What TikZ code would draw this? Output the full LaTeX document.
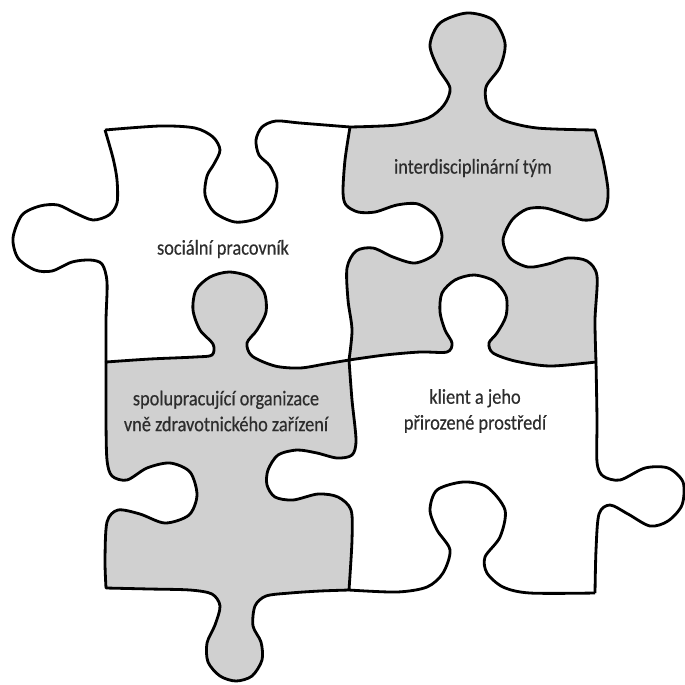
\documentclass[tikz,border=0pt]{standalone}
\usepackage{fontspec}
\setmainfont{Carlito}[FakeStretch=0.87, FakeBold=0.4]
\usepackage{tikz}
\definecolor{puzzlegray}{RGB}{208, 208, 208}
\definecolor{labelgray}{RGB}{45, 45, 45}

\begin{document}
\begin{tikzpicture}[x=0.02cm, y=-0.02cm,
    piece/.style={line width=1.6pt, line join=round, draw=black},
    grayfill/.style={piece, fill=puzzlegray},
    piecelabel/.style={font=\fontsize{12}{14.7}\selectfont, text=labelgray, align=center}]
        \useasboundingbox (0, 0) rectangle (685, 684);

        % Interdisciplinary team (top right, gray)
        \filldraw[grayfill]
            plot[smooth] coordinates {(350,127) (397,125) (428,118) (444,105) (450,88) (438,68) (430,45) (440,23) (467,13) (493,20) (505,43) (500,67) (486,87) (488,107) (503,120) (537,128) (595,130)}
            -- plot[smooth] coordinates {(595,130) (603,160) (608,190) (606,208) (597,218) (583,220) (565,214) (545,208) (527,209) (512,220) (503,240) (510,258) (528,267) (548,264) (568,258) (587,261) (597,276) (595,320) (596,362)}
            -- plot[smooth] coordinates {(596,362) (550,366) (515,361) (493,353) (489,343) (497,333) (506,316) (506,296) (494,281) (474,275) (455,280) (442,293) (440,312) (445,330) (452,343) (447,352) (420,352) (385,355) (349,360)}
            -- plot[smooth] coordinates {(349,360) (352,330) (348,300) (347,268) (356,251) (373,248) (393,257) (415,263) (435,254) (442,237) (435,216) (418,204) (397,205) (375,212) (358,212) (346,205) (343,192) (345,160) (350,127)}
            -- cycle;

        % Partner organisations (bottom left, gray)
        \filldraw[grayfill]
            plot[smooth] coordinates {(106,362) (150,359) (195,357) (212,355) (213,344) (200,330) (193,310) (196,290) (210,277) (229,272) (250,277) (264,292) (266,312) (257,330) (247,343) (252,356) (275,366) (300,368) (325,364) (349,360)}
            -- plot[smooth] coordinates {(349,360) (352,400) (356,440) (352,455) (337,458) (317,453) (297,450) (278,455) (268,470) (267,485) (275,497) (293,500) (318,494) (338,497) (351,510) (352,540) (349,590)}
            -- plot[smooth] coordinates {(349,590) (320,591) (290,593) (266,596) (255,606) (253,626) (261,642) (262,660) (252,676) (236,681) (220,676) (208,662) (207,643) (215,625) (220,606) (212,594) (190,590) (150,589) (106,588)}
            -- plot[smooth] coordinates {(106,588) (105,560) (107,522) (118,510) (140,514) (165,523) (189,515) (197,495) (190,472) (170,463) (147,468) (127,480) (112,476) (107,460) (106,420) (106,362)}
            -- cycle;

        % Social worker (top left, white)
        \draw[piece] plot[smooth] coordinates {(105,130) (160,126) (195,128) (213,137) (220,150) (214,164) (207,176) (205,195) (214,212) (235,222) (258,218) (273,203) (277,183) (270,166) (259,155) (256,140) (262,127) (276,121) (300,123) (350,127)};
        \draw[piece] plot[smooth] coordinates {(105,130) (113,158) (117,180) (117,203) (109,215) (93,220) (75,213) (58,205) (40,206) (22,215) (13,238) (18,258) (35,270) (52,271) (72,262) (90,260) (102,264) (107,282) (106,320) (106,362)};

        % Client (bottom right, white)
        \draw[piece] plot[smooth] coordinates {(596,362) (597,420) (597,462) (603,476) (620,480) (645,468) (668,468) (683,482) (682,505) (668,521) (650,526) (628,514) (610,505) (599,514) (596,550) (595,593)};
        \draw[piece] plot[smooth] coordinates {(349,590) (397,592) (427,587) (443,573) (450,550) (437,530) (430,510) (437,490) (463,482) (487,487) (505,510) (500,537) (485,557) (487,573) (503,587) (530,593) (595,593)};

        % Labels
        \node[piecelabel] (social) at (223, 249) {sociální pracovník};
        \node[piecelabel] (team) at (473, 168) {interdisciplinární tým};
        \node[piecelabel] (partners) at (226, 411) {spolupracující organizace\\vně zdravotnického zařízení};
        \node[piecelabel] (client) at (475, 411) {klient a jeho\\přirozené prostředí};

    \end{tikzpicture}
\end{document}
